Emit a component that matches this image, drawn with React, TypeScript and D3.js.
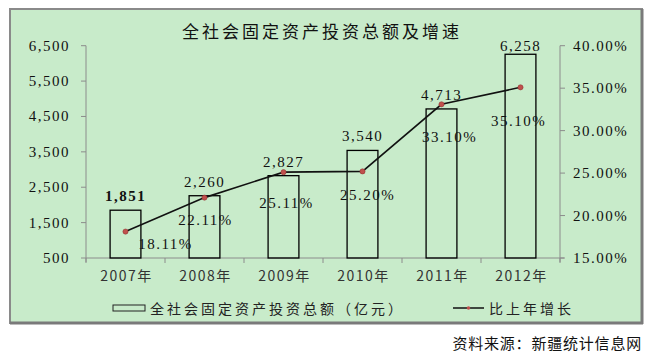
import React from 'react';
import * as d3 from 'd3';

const categories: string[] = ['2007年', '2008年', '2009年', '2010年', '2011年', '2012年'];
const investment: number[] = [1851, 2260, 2827, 3540, 4713, 6258];
const growth: number[] = [18.11, 22.11, 25.11, 25.2, 33.1, 35.1];
const leftTicks: number[] = [500, 1500, 2500, 3500, 4500, 5500, 6500];
const rightTicks: number[] = [15, 20, 25, 30, 35, 40];
const titleText = '全社会固定资产投资总额及增速';
const legendBar = '全社会固定资产投资总额（亿元）';
const legendLine = '比上年增长';
const sourceText = '资料来源：新疆统计信息网';

// layout offsets for growth labels (relative to their point)
const growthLabelOffset: [number, number][] = [
  [40, 12], [1, 22], [3, 31], [5, 24], [8, 33], [-2, 34],
];

const W = 664;
const H = 358;
const plot = { left: 86, right: 560, top: 45.7, bottom: 258 };
const SERIF = '"Liberation Serif", "Times New Roman", serif';
const SANS = '"Noto Sans CJK SC", "Noto Sans", sans-serif';

export default function App() {
  const x = d3
    .scaleBand<string>()
    .domain(categories)
    .range([plot.left, plot.right])
    .paddingInner(0.61)
    .paddingOuter(0.305);
  const step = x.step();
  const yL = d3.scaleLinear().domain([500, 6500]).range([plot.bottom, plot.top]);
  const yR = d3.scaleLinear().domain([15, 40]).range([plot.bottom, plot.top]);
  const cx = (c: string) => (x(c) as number) + x.bandwidth() / 2;
  const pts: [number, number][] = categories.map((c, i) => [cx(c), yR(growth[i])]);
  const line = d3.line<[number, number]>().x((d) => d[0]).y((d) => d[1]);
  const fmt = d3.format(',');
  const bounds = d3.range(categories.length + 1).map((i) => plot.left + (x.paddingOuter() - x.paddingInner() / 2) * step + i * step);

  return (
    <svg
      width={W}
      height={H}
      style={{ position: 'absolute', left: 0, top: 0, display: 'block', background: '#fff' }}
    >
      {/* panel */}
      <rect x={10} y={9} width={632} height={314} fill="#c8ebca" stroke="#8a8a8a" strokeWidth={2} />
      <line x1={642} y1={9} x2={642} y2={324} stroke="#7a7a7a" strokeWidth={3} />
      <line x1={10} y1={323} x2={643} y2={323} stroke="#7a7a7a" strokeWidth={3} />

      <text
        x={322}
        y={30}
        textAnchor="middle"
        dominantBaseline="central"
        fontFamily={SANS}
        fontSize={17}
        fontWeight={400}
        letterSpacing={3}
        fill="#111"
      >
        {titleText}
      </text>

      {/* axes */}
      <line x1={plot.left} y1={plot.top} x2={plot.left} y2={plot.bottom + 4} stroke="#8c8c8c" />
      <line x1={plot.right} y1={plot.top} x2={plot.right} y2={plot.bottom + 4} stroke="#8c8c8c" />
      <line x1={plot.left} y1={plot.bottom} x2={plot.right + 4} y2={plot.bottom} stroke="#8c8c8c" />
      {leftTicks.map((t) => (
        <g key={'l' + t}>
          <line x1={plot.left - 5} x2={plot.left} y1={yL(t)} y2={yL(t)} stroke="#8c8c8c" />
          <text
            x={70}
            y={yL(t)}
            textAnchor="end"
            dominantBaseline="central"
            fontFamily={SERIF}
            fontSize={15}
            letterSpacing={1.5}
            fill="#111"
          >
            {fmt(t)}
          </text>
        </g>
      ))}
      {rightTicks.map((t) => (
        <g key={'r' + t}>
          <line x1={plot.right} x2={plot.right + 5} y1={yR(t)} y2={yR(t)} stroke="#8c8c8c" />
          <text
            x={573}
            y={yR(t)}
            textAnchor="start"
            dominantBaseline="central"
            fontFamily={SERIF}
            fontSize={15}
            letterSpacing={1.5}
            fill="#111"
          >
            {t.toFixed(2) + '%'}
          </text>
        </g>
      ))}
      {bounds.map((b, i) => (
        <line key={'b' + i} x1={b} x2={b} y1={plot.bottom} y2={plot.bottom + 5} stroke="#8c8c8c" />
      ))}
      {categories.map((c) => (
        <text
          key={'c' + c}
          x={cx(c) + 1}
          y={275}
          textAnchor="middle"
          dominantBaseline="central"
          fontFamily={SANS}
          fontSize={14}
          letterSpacing={1.5}
          fill="#333"
        >
          {c}
        </text>
      ))}

      {/* bars */}
      {categories.map((c, i) => (
        <rect
          key={'bar' + c}
          x={x(c) as number}
          y={yL(investment[i])}
          width={x.bandwidth()}
          height={plot.bottom - yL(investment[i])}
          fill="none"
          stroke="#000"
          strokeWidth={1.3}
        />
      ))}
      {categories.map((c, i) => (
        <text
          key={'bl' + c}
          x={cx(c)}
          y={Math.max(yL(investment[i]) - 14, plot.top)}
          textAnchor="middle"
          dominantBaseline="central"
          fontFamily={SERIF}
          fontSize={15}
          fontWeight={i === 0 ? 700 : 400}
          letterSpacing={1.5}
          fill="#111"
        >
          {fmt(investment[i])}
        </text>
      ))}

      {/* line */}
      <path d={line(pts) || ''} fill="none" stroke="#111" strokeWidth={1.6} />
      {pts.map((p, i) => (
        <circle key={'p' + i} cx={p[0]} cy={p[1]} r={2.6} fill="#c0504d" stroke="#8a2e2c" strokeWidth={0.5} />
      ))}
      {pts.map((p, i) => (
        <text
          key={'gl' + i}
          x={p[0] + growthLabelOffset[i][0]}
          y={p[1] + growthLabelOffset[i][1]}
          textAnchor="middle"
          dominantBaseline="central"
          fontFamily={SERIF}
          fontSize={15}
          letterSpacing={1.5}
          fill="#111"
        >
          {growth[i].toFixed(2) + '%'}
        </text>
      ))}

      {/* legend */}
      <rect x={113} y={305} width={32} height={6} fill="none" stroke="#222" strokeWidth={1} />
      <text
        x={150}
        y={308}
        dominantBaseline="central"
        fontFamily={SANS}
        fontSize={14}
        letterSpacing={3}
        fill="#222"
      >
        {legendBar}
      </text>
      <line x1={453} x2={484} y1={308} y2={308} stroke="#111" strokeWidth={1.5} />
      <circle cx={468.5} cy={308} r={1.8} fill="#c0504d" />
      <text
        x={489}
        y={308}
        dominantBaseline="central"
        fontFamily={SANS}
        fontSize={14}
        letterSpacing={3}
        fill="#222"
      >
        {legendLine}
      </text>

      <text
        x={642}
        y={342}
        textAnchor="end"
        dominantBaseline="central"
        fontFamily={SANS}
        fontSize={15}
        letterSpacing={0.8}
        fill="#111"
      >
        {sourceText}
      </text>
    </svg>
  );
}
